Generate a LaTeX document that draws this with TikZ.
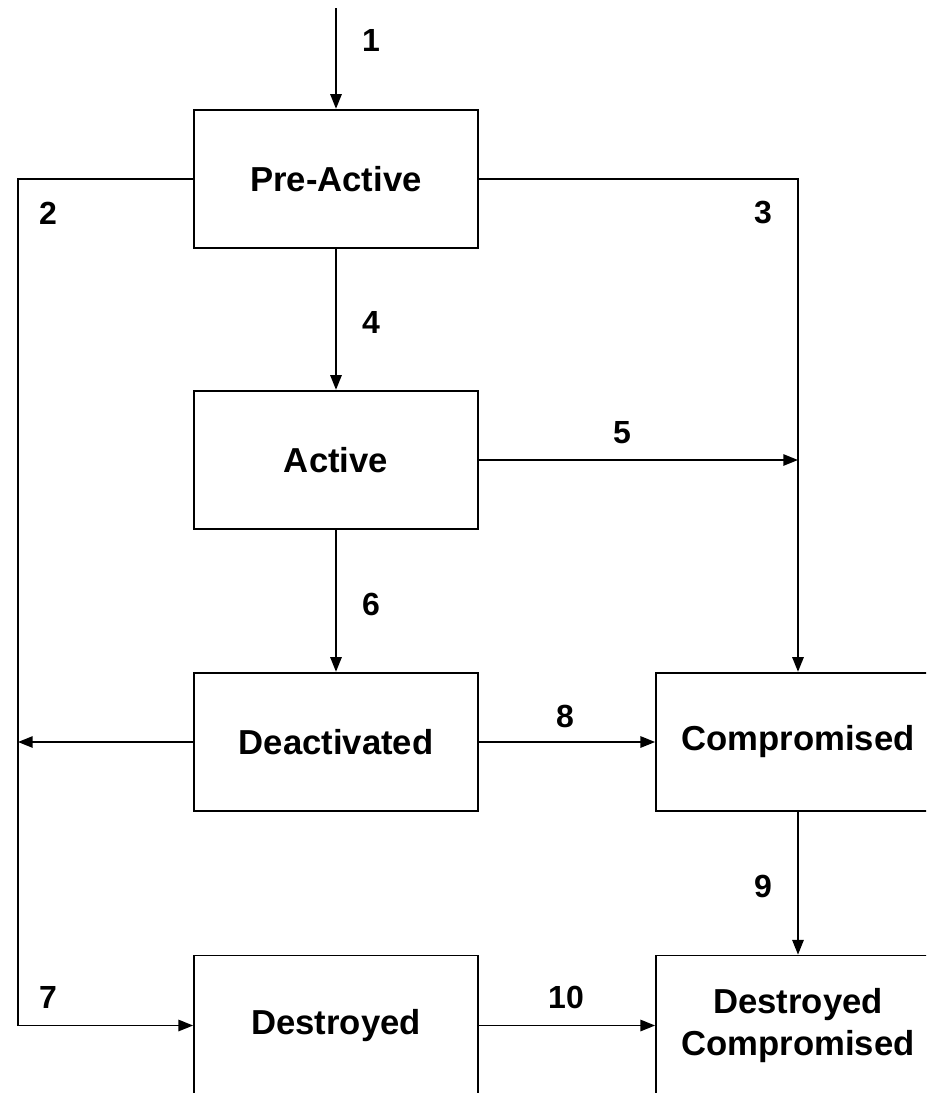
\documentclass[tikz,border=0pt]{standalone}
\usepackage{fontspec}
\setmainfont{Liberation Sans}
\usetikzlibrary{arrows.meta}
\begin{document}
\begin{tikzpicture}[x=0.75pt,y=-0.75pt,
  state/.style={draw, line width=1.3pt, rectangle, minimum width=213pt, minimum height=104pt,
    inner sep=0pt, align=center, font=\fontsize{26}{31}\selectfont\bfseries},
  tall/.style={minimum height=105pt},
  lbl/.style={font=\fontsize{24}{28}\selectfont\bfseries, inner sep=0pt},
  flow/.style={line width=1.3pt, -{Triangle[length=11pt,width=8.5pt]}}]
  \useasboundingbox (0,0) rectangle (926,1093);
  \clip (0,0) rectangle (926,1093);

  % states of the key lifecycle
  \node[state] (pre)  at (336,179)  {Pre-Active};
  \node[state] (act)  at (336,460)  {Active};
  \node[state] (deac) at (336,742)  {Deactivated};
  \node[state] (comp) at (798,742)  {Compromised};
  \node[state,tall] (dest) at (336,1025.5) {Destroyed};
  \node[state,tall] (dc)   at (798,1025.5) {Destroyed\\Compromised};

  % routing points
  \coordinate (start) at (336,8);
  \coordinate (lt)    at (18,179);
  \coordinate (lb)    at (18,1025.5);
  \coordinate (rt)    at (798,179);
  \coordinate (rm)    at (798,460);
  \coordinate (lm)    at (18,742);

  % transitions
  \draw[flow] (start) -- (pre.north);
  \draw[flow] (pre.west) -- (lt) -- (lb) -- (dest.west);
  \draw[flow] (pre.east) -- (rt) -- (comp.north);
  \draw[flow] (pre.south) -- (act.north);
  \draw[flow] (act.east) -- (rm);
  \draw[flow] (act.south) -- (deac.north);
  \draw[flow] (deac.west) -- (lm);
  \draw[flow] (deac.east) -- (comp.west);
  \draw[flow] (comp.south) -- (dc.north);
  \draw[flow] (dest.east) -- (dc.west);

  % transition numbers
  \node[lbl] (n1)  at (371,40)  {1};
  \node[lbl] (n2)  at (48,213)  {2};
  \node[lbl] (n3)  at (763,213) {3};
  \node[lbl] (n4)  at (371,322) {4};
  \node[lbl] (n5)  at (622,433) {5};
  \node[lbl] (n6)  at (371,604) {6};
  \node[lbl] (n7)  at (48,997)  {7};
  \node[lbl] (n8)  at (565,716) {8};
  \node[lbl] (n9)  at (763,886) {9};
  \node[lbl] (n10) at (566,997) {10};
\end{tikzpicture}
\end{document}
